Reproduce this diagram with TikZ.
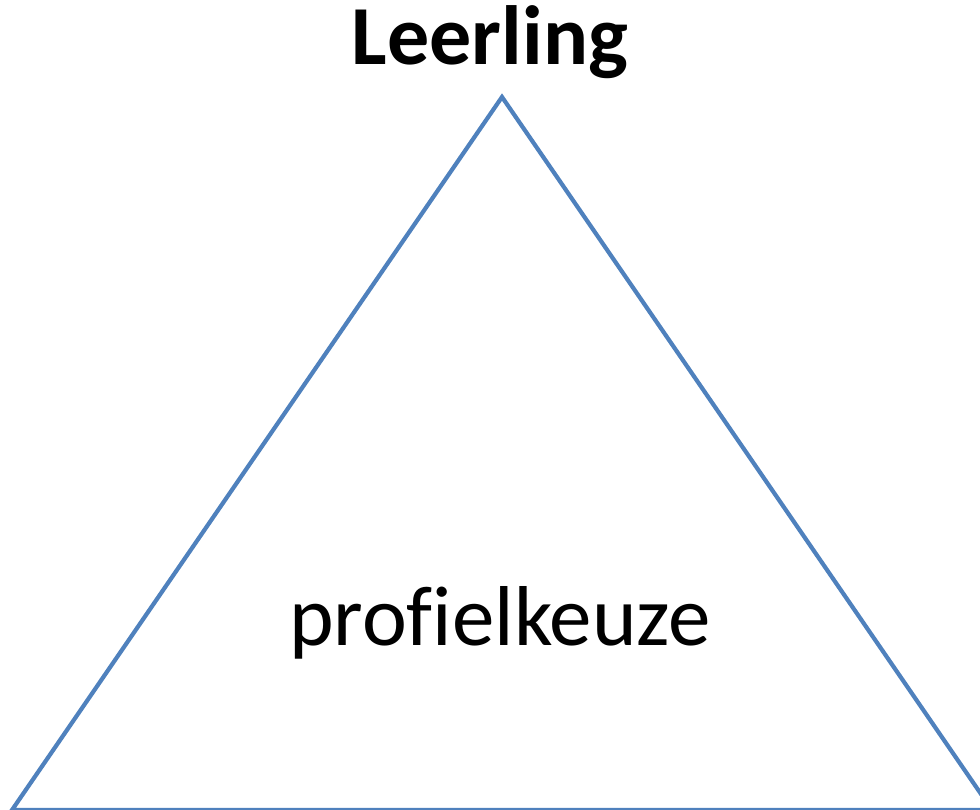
\documentclass[tikz,border=0pt]{standalone}
\usepackage{fontspec}
\setmainfont[Ligatures=NoCommon]{Carlito}
\definecolor{edgeblue}{RGB}{79,129,189}

\begin{document}
\begin{tikzpicture}[x=1pt, y=-1pt, line cap=round,
  side/.style={draw=edgeblue, line width=4.2pt, line join=miter},
  title/.style={font=\fontsize{84}{92}\selectfont\bfseries, anchor=base},
  inner/.style={font=\fontsize{85}{94}\selectfont, anchor=base}]
\useasboundingbox (0,0) rectangle (980,810);
\coordinate (top) at (502,97);
\coordinate (left) at (12,810);
\coordinate (right) at (992,810);
\draw [side] (top) -- (right) -- (left) -- cycle;
\node [title] (leerling) at (490,65) {Leerling};
\node [inner] (keuze) at (500,645) {profielkeuze};
\end{tikzpicture}
\end{document}
